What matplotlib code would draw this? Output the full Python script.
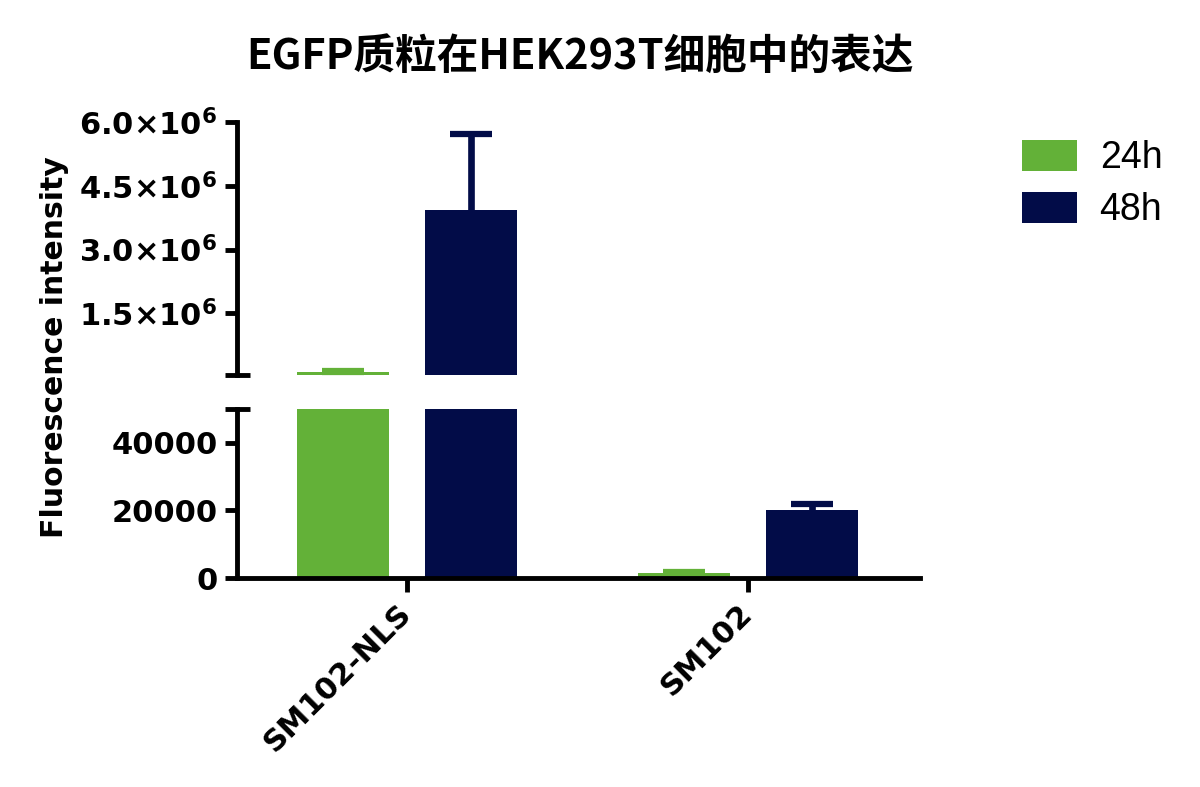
import matplotlib
matplotlib.use('Agg')
import matplotlib.pyplot as plt
from matplotlib.ticker import FixedLocator, FixedFormatter, NullFormatter
import numpy as np

# ---- data ----
categories = ['SM102-NLS', 'SM102']
series_names = ['24h', '48h']
mean_24h = [130000, 1500]
sd_24h = [12000, 400]
mean_48h = [3940000, 20000]
sd_48h = [1780000, 1800]

lower_ticks = [0, 20000, 40000]
lower_tick_labels = ['0', '20000', '40000']
upper_ticks = [1.5e6, 3.0e6, 4.5e6, 6.0e6]
upper_tick_labels = [r'$1.5{\times}10^{6}$', r'$3.0{\times}10^{6}$',
                     r'$4.5{\times}10^{6}$', r'$6.0{\times}10^{6}$']
break_value = 50000
upper_max = 6.0e6

title = 'EGFP质粒在HEK293T细胞中的表达'
ylabel = 'Fluorescence intensity'

# ---- style ----
GREEN = '#63b138'
NAVY = '#020c48'
plt.rcParams['mathtext.default'] = 'regular'
tick_family = ['DejaVu Sans']
tick_size = 22

fig = plt.figure(figsize=(12, 7.87), dpi=100)
W, H = 1200, 787
left = 237 / W
width = (920 - 237) / W
ax_up = fig.add_axes([left, 1 - 375 / H, width, (375 - 122) / H])
ax_lo = fig.add_axes([left, 1 - 578 / H, width, (578 - 409) / H])

x = np.arange(len(categories))
bw = 0.27
off = 0.1877

for ax, is_upper in ((ax_up, True), (ax_lo, False)):
    for means, sds, color, dx, name in ((mean_24h, sd_24h, GREEN, -off, series_names[0]),
                                        (mean_48h, sd_48h, NAVY, off, series_names[1])):
        m = np.asarray(means, dtype=float)
        s = np.asarray(sds, dtype=float)
        ax.bar(x + dx, m, width=bw, color=color, label=name, zorder=2)
        # show error bars only in the panel where their top lies
        keep = (m + s > break_value) if is_upper else (m + s <= break_value)
        if keep.any():
            ax.errorbar((x + dx)[keep], m[keep], yerr=s[keep], fmt='none',
                        ecolor=color, elinewidth=4.8, capsize=15, capthick=4.5, zorder=1)
    ax.set_xlim(-0.5, 1.505)
    for sp in ('top', 'right'):
        ax.spines[sp].set_visible(False)
    ax.spines['left'].set_linewidth(3.5)
    ax.spines['bottom'].set_linewidth(3.5)
    ax.tick_params(axis='y', which='major', length=9, width=3.5, direction='out', pad=5)
    ax.tick_params(axis='y', which='minor', length=18, width=3.5, direction='inout')
    ax.yaxis.set_minor_locator(FixedLocator([break_value]))
    ax.yaxis.set_minor_formatter(NullFormatter())

# upper axes
ax_up.set_ylim(break_value, upper_max)
ax_up.spines['bottom'].set_visible(False)
ax_up.set_xticks([])
ax_up.yaxis.set_major_locator(FixedLocator(upper_ticks))
ax_up.yaxis.set_major_formatter(FixedFormatter(upper_tick_labels))

# lower axes
ax_lo.set_ylim(0, break_value)
ax_lo.yaxis.set_major_locator(FixedLocator(lower_ticks))
ax_lo.yaxis.set_major_formatter(FixedFormatter(lower_tick_labels))
ax_lo.set_xticks(x)
ax_lo.set_xticklabels(categories, rotation=45, ha='right', va='center', rotation_mode='anchor')
ax_lo.tick_params(axis='x', length=10, width=3.5, direction='out', pad=12)

for ax in (ax_up, ax_lo):
    for lab in ax.get_yticklabels() + ax.get_xticklabels():
        lab.set_fontfamily(tick_family)
        lab.set_fontweight('bold')
        lab.set_fontsize(tick_size)

fig.text(55 / W, 1 - 347 / H, ylabel, rotation=90, ha='center', va='center',
         fontsize=21.5, fontweight='bold', family=['DejaVu Sans'])
fig.text(580 / W, 1 - 57 / H, title, ha='center', va='center', fontsize=30,
         fontweight='bold', family=['Noto Sans CJK SC', 'DejaVu Sans'])

handles, labels = ax_lo.get_legend_handles_labels()
fig.legend(handles, labels, loc='upper left', bbox_to_anchor=(1022 / W, 1 - 140 / H),
           frameon=False, borderpad=0, borderaxespad=0, handlelength=1.47,
           handleheight=0.9, labelspacing=0.4, handletextpad=0.6,
           prop=dict(family=['Liberation Sans', 'DejaVu Sans'], size=27))

fig.savefig('out.png', dpi=100)
